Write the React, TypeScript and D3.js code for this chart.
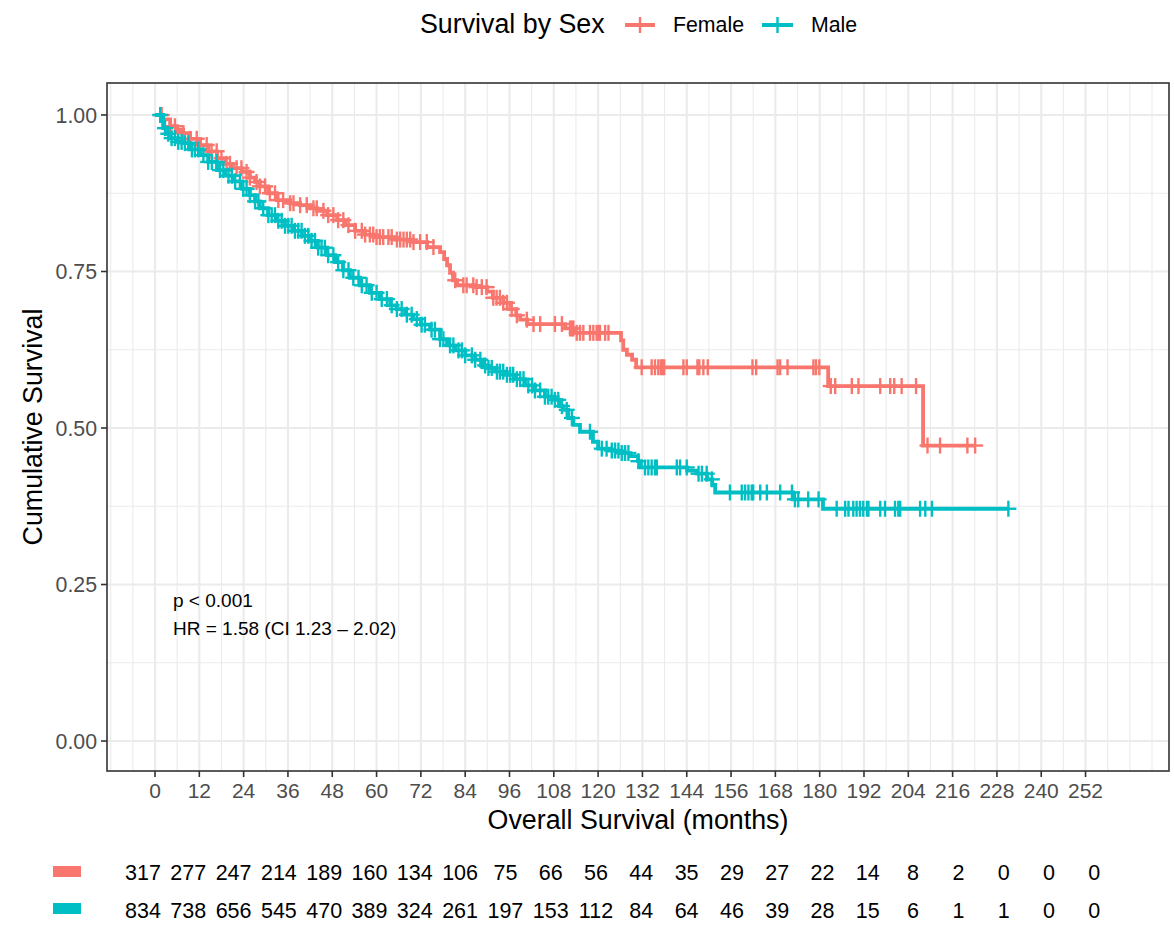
import React from "react";
import * as d3 from "d3";

const W = 1174;
const H = 926;

const FEMALE_COLOR = "#F8766D";
const MALE_COLOR = "#00BFC4";

const xTicks = [0, 12, 24, 36, 48, 60, 72, 84, 96, 108, 120, 132, 144, 156, 168, 180, 192, 204, 216, 228, 240, 252];
const yTicks = [0, 0.25, 0.5, 0.75, 1.0];
const yTickLabels = ["0.00", "0.25", "0.50", "0.75", "1.00"];

const femaleTimes = [0, 2.2, 4.1, 6.0, 7.6, 9.5, 12.2, 14.4, 16.8, 19.0, 21.1, 23.6, 25.7, 27.1, 28.4, 30.6, 33.0, 36.6, 39.3, 42.0, 43.9, 46.6, 49.3, 51.5, 54.2, 56.9, 59.6, 65.0, 69.9, 73.7, 77.2, 78.3, 79.1, 79.9, 80.7, 81.8, 86.7, 89.9, 91.5, 94.3, 96.2, 97.8, 98.9, 100.8, 111.1, 113.8, 126.2, 126.8, 127.8, 129.2, 130.3, 182.3, 208.0];
const femaleSurv = [1, 0.993, 0.982, 0.976, 0.971, 0.962, 0.952, 0.942, 0.931, 0.922, 0.915, 0.909, 0.9, 0.893, 0.886, 0.875, 0.864, 0.859, 0.856, 0.851, 0.847, 0.84, 0.832, 0.824, 0.815, 0.809, 0.805, 0.801, 0.797, 0.789, 0.781, 0.77, 0.76, 0.748, 0.736, 0.728, 0.725, 0.718, 0.708, 0.7, 0.69, 0.68, 0.673, 0.666, 0.659, 0.652, 0.64, 0.625, 0.617, 0.609, 0.597, 0.567, 0.472];
const femaleEnd = 222.1;
const femaleCensor = [
  1.8, 4.1, 5.4, 7.7, 9.5, 11.3, 12.2, 14.0, 15.3, 16.7, 18.0, 19.4, 20.3, 22.1, 23.4, 24.8, 25.7, 27.5, 28.4, 29.8, 31.1, 32.5, 33.4, 34.7, 36.6, 37.5, 39.3, 41.1, 42.9, 43.8, 45.6, 46.9, 48.3, 49.6, 51.0, 52.4,
  54.2, 56.0, 56.9, 58.2, 59.1, 60.0, 60.9, 61.8, 63.2, 64.1, 65.5, 66.4, 67.3, 68.2, 69.1, 70.0, 71.8, 73.6, 75.4,
  81.3, 83.5, 84.4, 86.2, 87.1, 88.5, 89.8, 91.6, 92.5, 93.4, 94.3, 95.3, 96.6, 98.0, 100.7, 102.5, 104.3,
  108.3, 110.2, 112.4, 112.9, 113.3, 114.2, 115.1, 116.0, 117.8, 118.7, 119.6, 120.1, 120.5, 121.9, 122.8,
  131.8, 134.5, 135.4, 136.3, 137.0, 137.4, 137.9, 143.1, 144.0, 146.9, 147.4, 148.5, 149.7, 161.8, 162.8, 168.6, 169.3, 171.3, 178.3, 179.0, 179.9,
  183.0, 184.2, 188.7, 190.5, 196.4, 199.1, 200.2, 202.2, 206.1,
  209.2, 212.6, 220.0, 222.1,
];

const maleTimes = [0, 2.2, 3.3, 4.1, 6.2, 7.6, 9.5, 12.2, 14.4, 16.8, 19.0, 21.1, 23.6, 25.7, 27.1, 28.4, 30.6, 33.0, 35.2, 37.4, 39.8, 42.0, 44.1, 46.6, 48.8, 50.9, 52.8, 55.5, 58.2, 60.9, 63.7, 65.5, 67.7, 69.9, 72.0, 74.5, 77.2, 79.1, 81.3, 84.0, 86.7, 88.6, 89.9, 92.1, 94.8, 97.5, 100.2, 102.9, 105.6, 107.9, 109.7, 110.6, 111.9, 113.3, 115.1, 118.6, 120.0, 123.2, 125.9, 128.7, 130.8, 131.6, 144.1, 146.8, 149.5, 150.9, 151.7, 172.8, 180.9];
const maleSurv = [1, 0.979, 0.97, 0.963, 0.957, 0.955, 0.945, 0.936, 0.925, 0.912, 0.903, 0.894, 0.882, 0.872, 0.862, 0.851, 0.84, 0.831, 0.823, 0.815, 0.807, 0.799, 0.788, 0.776, 0.765, 0.752, 0.74, 0.728, 0.716, 0.706, 0.696, 0.69, 0.681, 0.674, 0.665, 0.657, 0.642, 0.632, 0.624, 0.616, 0.609, 0.6, 0.596, 0.59, 0.585, 0.578, 0.568, 0.56, 0.55, 0.545, 0.535, 0.529, 0.516, 0.505, 0.494, 0.478, 0.467, 0.464, 0.46, 0.455, 0.447, 0.437, 0.432, 0.427, 0.418, 0.409, 0.397, 0.386, 0.371];
const maleEnd = 231.1;
const maleCensor = [
  1.4, 2.7, 3.6, 4.5, 5.4, 6.3, 7.2, 8.1, 9.0, 10.0, 10.8, 11.7, 13.1, 14.4, 15.4, 16.7, 17.6, 18.5, 19.9, 20.8, 21.7, 23.0, 23.9, 24.8, 25.7, 27.1, 28.0, 29.3, 30.7, 31.6, 32.5, 33.4, 34.3, 35.2, 36.1, 37.0, 37.9, 38.8, 39.7, 40.6, 41.5, 42.4, 43.3, 44.2, 45.1, 46.0, 46.9,
  48.3, 49.6, 51.0, 52.4, 53.7, 55.1, 56.0, 57.3, 58.7, 60.0, 61.4, 62.8, 64.1, 65.5, 66.8, 68.2, 69.5, 70.9,
  72.2, 73.1, 74.9, 75.8, 77.2, 78.1, 79.9, 80.8, 82.2, 83.1, 84.0, 85.8, 86.7, 88.1, 89.4, 90.3, 91.2, 92.6, 93.4, 94.3, 95.3, 96.2, 97.0, 98.0, 98.9, 99.8, 101.1, 102.1, 102.9, 104.3, 105.6, 106.5, 107.4, 108.3, 109.2, 110.2, 111.5, 112.9,
  117.8, 121.0, 122.3, 123.7, 124.6, 125.5, 126.4, 127.3, 128.2, 130.9, 132.7, 133.6, 134.5, 135.4, 135.9, 141.3, 142.2, 144.0, 147.2, 148.1, 149.4,
  150.8, 155.7, 158.9, 159.8, 160.7, 161.6, 162.0, 163.9, 165.7, 169.3, 172.5, 173.3, 174.2, 176.9, 179.7,
  184.6, 186.9, 187.8, 189.1, 190.0, 190.9, 191.8, 192.8, 193.2, 196.4, 197.7, 200.4, 201.3, 201.8, 207.2, 208.6, 210.4, 231.1,
];

const femaleAtRisk = [317, 277, 247, 214, 189, 160, 134, 106, 75, 66, 56, 44, 35, 29, 27, 22, 14, 8, 2, 0, 0, 0];
const maleAtRisk = [834, 738, 656, 545, 470, 389, 324, 261, 197, 153, 112, 84, 64, 46, 39, 28, 15, 6, 1, 1, 0, 0];

const FONT = "'Liberation Sans', Arial, Helvetica, sans-serif";

const x = d3.scaleLinear().domain([-13, 274.6]).range([107, 1169]);
const y = d3.scaleLinear().domain([-0.0479, 1.0511]).range([771, 83]);
const xRisk = d3.scaleLinear().domain([0, 252]).range([143, 1094.3]);

const minorX = d3.range(-12, 276, 6).filter((v) => !xTicks.includes(v));
const minorY = [0.125, 0.375, 0.625, 0.875];

function survAt(times: number[], surv: number[], t: number) {
  const i = d3.bisectRight(times, t) - 1;
  return surv[Math.max(0, i)];
}

function Curve({ times, surv, end, censor, color }: any) {
  const pts: [number, number][] = times.map((t: number, i: number) => [t, surv[i]]);
  pts.push([end, surv[surv.length - 1]]);
  const line = d3
    .line<[number, number]>()
    .x((d) => x(d[0]))
    .y((d) => y(d[1]))
    .curve(d3.curveStepAfter);
  return (
    <g>
      <path d={line(pts) || ""} fill="none" stroke={color} strokeWidth={3.8} />
      {censor.map((t: number, i: number) => {
        const cx = x(t);
        const cy = y(survAt(times, surv, t));
        return (
          <g key={i} stroke={color} strokeWidth={2.4}>
            <line x1={cx} x2={cx} y1={cy - 8} y2={cy + 8} />
            <line x1={cx - 8} x2={cx + 8} y1={cy} y2={cy} />
          </g>
        );
      })}
    </g>
  );
}

export default function App() {
  const [x0, x1] = x.range();
  const [y0, y1] = y.range();
  return (
    <svg
      width={W}
      height={H}
      viewBox={`0 0 ${W} ${H}`}
      style={{ position: "absolute", left: 0, top: 0, display: "block", background: "#fff" }}
      fontFamily={FONT}
    >
      <rect x={0} y={0} width={W} height={H} fill="#fff" />
      {/* Legend */}
      <text x={420} y={33} fontSize={26.8} fill="#000">Survival by Sex</text>
      <g stroke={FEMALE_COLOR}>
        <line x1={625} x2={655} y1={25} y2={25} strokeWidth={4} />
        <line x1={640} x2={640} y1={17} y2={33} strokeWidth={2.4} />
      </g>
      <text x={673} y={32} fontSize={21.3} fill="#000">Female</text>
      <g stroke={MALE_COLOR}>
        <line x1={762} x2={793} y1={25} y2={25} strokeWidth={4} />
        <line x1={777.5} x2={777.5} y1={17} y2={33} strokeWidth={2.4} />
      </g>
      <text x={811} y={32} fontSize={21.3} fill="#000">Male</text>

      {/* Panel grid */}
      <defs>
        <clipPath id="panel">
          <rect x={x0} y={y1} width={x1 - x0} height={y0 - y1} />
        </clipPath>
      </defs>
      <g clipPath="url(#panel)">
        {minorX.map((v) => (
          <line key={"mx" + v} x1={x(v)} x2={x(v)} y1={y1} y2={y0} stroke="#EBEBEB" strokeWidth={1.1} />
        ))}
        {minorY.map((v) => (
          <line key={"my" + v} x1={x0} x2={x1} y1={y(v)} y2={y(v)} stroke="#EBEBEB" strokeWidth={1.1} />
        ))}
        {xTicks.map((v) => (
          <line key={"Mx" + v} x1={x(v)} x2={x(v)} y1={y1} y2={y0} stroke="#EBEBEB" strokeWidth={2.1} />
        ))}
        {yTicks.map((v) => (
          <line key={"My" + v} x1={x0} x2={x1} y1={y(v)} y2={y(v)} stroke="#EBEBEB" strokeWidth={2.1} />
        ))}
        <Curve times={femaleTimes} surv={femaleSurv} end={femaleEnd} censor={femaleCensor} color={FEMALE_COLOR} />
        <Curve times={maleTimes} surv={maleSurv} end={maleEnd} censor={maleCensor} color={MALE_COLOR} />
      </g>
      <rect x={x0} y={y1} width={x1 - x0} height={y0 - y1} fill="none" stroke="#333333" strokeWidth={1.6} />

      {/* Annotation */}
      <text x={173} y={607} fontSize={19} fill="#000">p &lt; 0.001</text>
      <text x={173} y={635} fontSize={19} fill="#000">HR = 1.58 (CI 1.23 – 2.02)</text>

      {/* Y axis */}
      {yTicks.map((v, i) => (
        <g key={"yt" + v}>
          <line x1={x0 - 6} x2={x0} y1={y(v)} y2={y(v)} stroke="#333333" strokeWidth={1.6} />
          <text x={x0 - 10} y={y(v)} dy="0.36em" textAnchor="end" fontSize={21.3} fill="#4D4D4D">
            {yTickLabels[i]}
          </text>
        </g>
      ))}
      <text
        transform={`translate(42, ${(y0 + y1) / 2}) rotate(-90)`}
        textAnchor="middle"
        fontSize={26.8}
        fill="#000"
      >
        Cumulative Survival
      </text>

      {/* X axis */}
      {xTicks.map((v) => (
        <g key={"xt" + v}>
          <line x1={x(v)} x2={x(v)} y1={y0} y2={y0 + 6} stroke="#333333" strokeWidth={1.6} />
          <text x={x(v)} y={798} textAnchor="middle" fontSize={21} fill="#4D4D4D">
            {v}
          </text>
        </g>
      ))}
      <text x={(x0 + x1) / 2} y={829} textAnchor="middle" fontSize={26.8} fill="#000">
        Overall Survival (months)
      </text>

      {/* Risk table */}
      <rect x={53} y={866} width={28} height={11} fill={FEMALE_COLOR} />
      <rect x={53} y={903} width={28} height={11} fill={MALE_COLOR} />
      {femaleAtRisk.map((n, i) => (
        <text key={"fr" + i} x={xRisk(xTicks[i])} y={880} textAnchor="middle" fontSize={21.5} fill="#000">
          {n}
        </text>
      ))}
      {maleAtRisk.map((n, i) => (
        <text key={"mr" + i} x={xRisk(xTicks[i])} y={918} textAnchor="middle" fontSize={21.5} fill="#000">
          {n}
        </text>
      ))}
    </svg>
  );
}
